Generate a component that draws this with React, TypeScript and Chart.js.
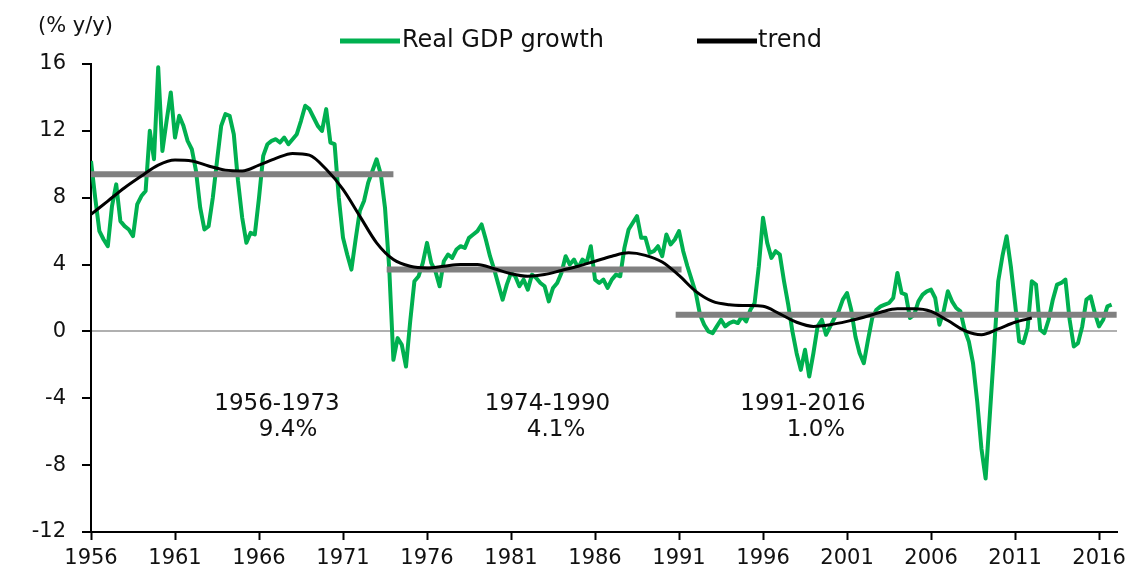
import React, { useEffect, useRef } from "react";
import { Chart, registerables } from "chart.js";

Chart.register(...registerables);

// ---- Data ----
const FIRST_YEAR = 1956;
const QUARTER_STEP = 0.25;

// Real GDP growth, % y/y, quarterly from 1956Q1
const gdpGrowth = [
  10.2, 8.0, 6.0, 5.5, // 1956
  5.1, 7.5, 8.8, 6.6, // 1957
  6.3, 6.1, 5.7, 7.6, // 1958
  8.1, 8.4, 12.0, 10.3, // 1959
  15.8, 10.8, 12.6, 14.3, // 1960
  11.6, 12.9, 12.3, 11.4, // 1961
  10.9, 9.6, 7.4, 6.1, // 1962
  6.3, 8.0, 10.2, 12.3, // 1963
  13.0, 12.9, 11.8, 9.0, // 1964
  6.8, 5.3, 5.9, 5.8, // 1965
  8.0, 10.5, 11.2, 11.4, // 1966
  11.5, 11.3, 11.6, 11.2, // 1967
  11.5, 11.8, 12.6, 13.5, // 1968
  13.3, 12.8, 12.3, 12.0, // 1969
  13.3, 11.3, 11.2, 8.0, // 1970
  5.6, 4.6, 3.7, 5.5, // 1971
  7.2, 7.8, 8.9, 9.6, // 1972
  10.3, 9.4, 7.4, 3.8, // 1973
  -1.7, -0.4, -0.8, -2.1, // 1974
  0.6, 3.0, 3.3, 4.1, // 1975
  5.3, 4.1, 3.6, 2.7, // 1976
  4.2, 4.6, 4.4, 4.9, // 1977
  5.1, 5.0, 5.6, 5.8, // 1978
  6.0, 6.4, 5.5, 4.5, // 1979
  3.7, 2.8, 1.9, 2.8, // 1980
  3.5, 3.3, 2.7, 3.1, // 1981
  2.5, 3.4, 3.2, 2.9, // 1982
  2.7, 1.8, 2.6, 2.9, // 1983
  3.5, 4.5, 4.0, 4.3, // 1984
  3.8, 4.3, 4.1, 5.1, // 1985
  3.1, 2.9, 3.1, 2.6, // 1986
  3.1, 3.4, 3.3, 5.0, // 1987
  6.1, 6.5, 6.9, 5.6, // 1988
  5.6, 4.7, 4.8, 5.1, // 1989
  4.5, 5.8, 5.2, 5.5, // 1990
  6.0, 4.8, 3.9, 3.1, // 1991
  2.3, 1.0, 0.4, 0.0, // 1992
  -0.1, 0.3, 0.7, 0.3, // 1993
  0.5, 0.6, 0.5, 0.9, // 1994
  0.6, 1.3, 1.7, 3.9, // 1995
  6.8, 5.3, 4.4, 4.8, // 1996
  4.6, 3.0, 1.6, 0.0, // 1997
  -1.3, -2.3, -1.1, -2.7, // 1998
  -1.3, 0.3, 0.7, -0.2, // 1999
  0.3, 0.8, 1.2, 1.9, // 2000
  2.3, 1.3, -0.3, -1.3, // 2001
  -1.9, -0.5, 0.8, 1.3, // 2002
  1.5, 1.6, 1.7, 2.0, // 2003
  3.5, 2.3, 2.2, 0.8, // 2004
  1.0, 1.8, 2.2, 2.4, // 2005
  2.5, 2.0, 0.4, 1.2, // 2006
  2.4, 1.8, 1.4, 1.2, // 2007
  0.1, -0.6, -1.9, -4.2, // 2008
  -7.0, -8.8, -5.0, -1.2, // 2009
  3.0, 4.5, 5.7, 3.9, // 2010
  1.7, -0.6, -0.7, 0.2, // 2011
  3.0, 2.8, 0.1, -0.1, // 2012
  0.7, 1.9, 2.8, 2.9, // 2013
  3.1, 0.7, -0.9, -0.7, // 2014
  0.3, 1.9, 2.1, 1.1, // 2015
  0.3, 0.7, 1.5, 1.6, // 2016
];

const trendYears = [
  1956, 1957, 1958, 1959, 1960, 1961, 1962, 1963, 1964, 1965, 1966, 1967, 1968,
  1969, 1970, 1971, 1972, 1973, 1974, 1975, 1976, 1977, 1978, 1979, 1980, 1981,
  1982, 1983, 1984, 1985, 1986, 1987, 1988, 1989, 1990, 1991, 1992, 1993, 1994,
  1995, 1996, 1997, 1998, 1999, 2000, 2001, 2002, 2003, 2004, 2005, 2006, 2007,
  2008, 2009, 2010, 2011, 2012,
];
const trendValues = [
  7.0, 7.8, 8.6, 9.3, 9.95, 10.25, 10.2, 9.9, 9.65, 9.6, 9.95, 10.35, 10.65,
  10.55, 9.7, 8.5, 6.9, 5.3, 4.3, 3.9, 3.8, 3.9, 4.0, 4.0, 3.75, 3.45,
  3.3, 3.4, 3.65, 3.9, 4.2, 4.5, 4.7, 4.55, 4.15, 3.35, 2.4, 1.8, 1.6,
  1.55, 1.5, 1.05, 0.55, 0.3, 0.4, 0.6, 0.85, 1.15, 1.35, 1.35, 1.2, 0.65,
  0.05, -0.2, 0.15, 0.55, 0.8,
];

const periodStarts = [1956, 1973.6, 1990.8];
const periodEnds = [1974, 1991.15, 2017.05];
const periodAvgs = [9.4, 3.7, 1.0];
const periodNames = ["1956-1973", "1974-1990", "1991-2016"];
const periodPercents = ["9.4%", "4.1%", "1.0%"];

const xTickValues = [1956, 1961, 1966, 1971, 1976, 1981, 1986, 1991, 1996, 2001, 2006, 2011, 2016];
const yTickValues = [-12, -8, -4, 0, 4, 8, 12, 16];

const seriesNames = ["Real GDP growth", "trend"];
const unitLabel = "(% y/y)";

// ---- Styles / layout ----
const FONT = "'DejaVu Sans', 'Liberation Sans', Arial, sans-serif";
const GREEN = "#00b050";
const GRAY = "#808080";
const TEXT = "#111111";

const annotationPos = [
  { x1: 1967.07, x2: 1967.73 },
  { x1: 1983.17, x2: 1983.68 },
  { x1: 1998.38, x2: 1999.15 },
];

const overlayPlugin = {
  id: "overlay",
  afterDraw(chart: any) {
    const ctx = chart.ctx;
    const xs = chart.scales.x;
    const ys = chart.scales.y;
    ctx.save();
    ctx.fillStyle = TEXT;
    ctx.textBaseline = "middle";

    // unit label
    ctx.font = `21px ${FONT}`;
    ctx.textAlign = "left";
    ctx.fillText(unitLabel, 38, 27);

    // legend
    ctx.lineCap = "butt";
    ctx.lineWidth = 5;
    ctx.strokeStyle = GREEN;
    ctx.beginPath();
    ctx.moveTo(340, 41);
    ctx.lineTo(400, 41);
    ctx.stroke();
    ctx.strokeStyle = "#000000";
    ctx.beginPath();
    ctx.moveTo(697, 41);
    ctx.lineTo(757, 41);
    ctx.stroke();
    ctx.font = `24px ${FONT}`;
    ctx.fillText(seriesNames[0], 402, 41);
    ctx.fillText(seriesNames[1], 758, 41);

    // period annotations
    ctx.font = `23px ${FONT}`;
    ctx.textAlign = "center";
    for (let i = 0; i < periodNames.length; i++) {
      const p = annotationPos[i];
      ctx.fillText(periodNames[i], xs.getPixelForValue(p.x1), ys.getPixelForValue(-4.35));
      ctx.fillText(periodPercents[i], xs.getPixelForValue(p.x2), ys.getPixelForValue(-5.9));
    }
    ctx.restore();
  },
};

export default function App() {
  const canvasRef = useRef<HTMLCanvasElement | null>(null);

  useEffect(() => {
    const canvas = canvasRef.current;
    if (!canvas) return;
    Chart.defaults.font.family = FONT;

    const gdpData = gdpGrowth.map((v, i) => ({ x: FIRST_YEAR + i * QUARTER_STEP, y: v }));
    const trendData = trendYears.map((yr, i) => ({ x: yr, y: trendValues[i] }));
    const periodSets = periodAvgs.map((avg, i) => ({
      label: periodNames[i],
      data: [
        { x: periodStarts[i], y: avg },
        { x: periodEnds[i], y: avg },
      ],
      borderColor: GRAY,
      borderWidth: 6,
      borderCapStyle: "butt",
      pointRadius: 0,
      order: 1,
      clip: false,
    }));

    const chart = new Chart(canvas, {
      type: "line",
      data: {
        datasets: [
          {
            label: seriesNames[1],
            data: trendData,
            borderColor: "#000000",
            borderWidth: 3,
            pointRadius: 0,
            tension: 0.4,
            cubicInterpolationMode: "monotone",
            order: 0,
          },
          ...(periodSets as any[]),
          {
            label: seriesNames[0],
            data: gdpData,
            borderColor: GREEN,
            borderWidth: 4,
            borderJoinStyle: "round",
            pointRadius: 0,
            tension: 0,
            order: 2,
          },
        ],
      },
      options: {
        responsive: false,
        animation: false,
        events: [],
        layout: { padding: { left: 0, right: 27, top: 64, bottom: 0 } },
        plugins: {
          legend: { display: false },
          tooltip: { enabled: false },
          title: { display: false },
        },
        scales: {
          x: {
            type: "linear",
            min: FIRST_YEAR,
            max: 2017.07,
            afterBuildTicks(scale: any) {
              scale.ticks = xTickValues.map((v) => ({ value: v }));
            },
            afterFit(scale: any) {
              scale.height = 39;
            },
            ticks: {
              autoSkip: false,
              maxRotation: 0,
              padding: 6,
              color: TEXT,
              font: { size: 21, family: FONT },
              callback: (v: any) => String(v),
            },
            grid: {
              drawOnChartArea: false,
              drawTicks: true,
              tickLength: 8,
              tickWidth: 2,
              tickColor: "#000000",
            },
            border: { display: true, color: "#000000", width: 2 },
          },
          y: {
            type: "linear",
            min: -12,
            max: 16,
            afterBuildTicks(scale: any) {
              scale.ticks = yTickValues.map((v) => ({ value: v }));
            },
            afterFit(scale: any) {
              scale.width = 91;
            },
            ticks: {
              padding: 16,
              color: TEXT,
              font: { size: 21, family: FONT },
              callback: (v: any) => String(v),
            },
            grid: {
              drawOnChartArea: true,
              drawTicks: true,
              tickLength: 9,
              tickWidth: 2,
              tickColor: "#000000",
              lineWidth: 2,
              color: (c: any) => (c.tick && c.tick.value === 0 ? "#b0b0b0" : "rgba(0,0,0,0)"),
            },
            border: { display: true, color: "#000000", width: 2 },
          },
        },
      },
      plugins: [overlayPlugin],
    } as any);

    return () => {
      chart.destroy();
    };
  }, []);

  return (
    <div style={{ position: "fixed", left: 0, top: 0, width: 1144, height: 571, background: "#ffffff" }}>
      <canvas ref={canvasRef} width={1144} height={571} style={{ display: "block" }} />
    </div>
  );
}
